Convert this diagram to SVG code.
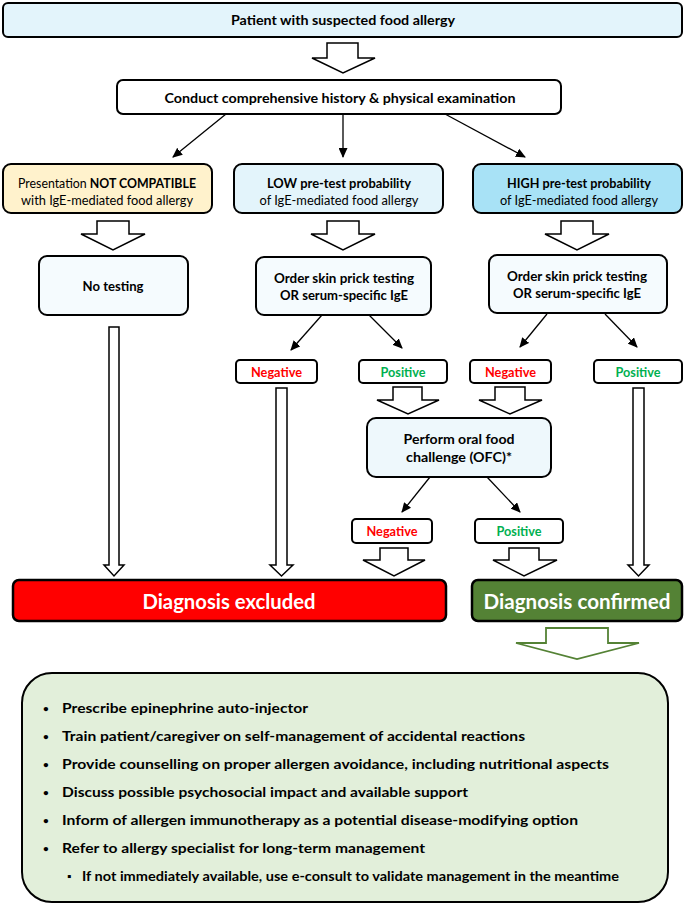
<svg xmlns="http://www.w3.org/2000/svg" width="685" height="909" viewBox="0 0 685 909">
<style>
text{font-family:Lato,"Liberation Sans",sans-serif;font-weight:bold;fill:#000;text-anchor:middle;dominant-baseline:central}
.n{font-weight:normal}
.box{stroke:#000;stroke-width:2}
.ha{fill:#fff;stroke:#000;stroke-width:1.5;stroke-linejoin:miter}
.ln{stroke:#000;stroke-width:1.3;fill:none;marker-end:url(#ah)}
.red{fill:#ff0000}
.grn{fill:#00b050}
.wht{fill:#fff}
.bl{text-anchor:start;font-size:13.5px}
.bu{text-anchor:middle;font-size:10px}
</style>
<defs>
<marker id="ah" markerUnits="userSpaceOnUse" markerWidth="10" markerHeight="9" refX="9" refY="4.5" orient="auto">
<path d="M0,0 L10,4.5 L0,9 z" fill="#000"/>
</marker>
</defs>

<g id="connectors">
<path class="ha" d="M327,43 H358 V58 H375 L343,73 L312,58 H327 Z"/>
<line class="ln" x1="226" y1="114" x2="173" y2="157"/>
<line class="ln" x1="343" y1="115" x2="343" y2="157"/>
<line class="ln" x1="445" y1="114" x2="525" y2="157"/>
<path class="ha" d="M97,221 H129 V234 H145 L113,250 L81,234 H97 Z"/>
<path class="ha" d="M327,221 H359 V234 H375 L343,250 L311,234 H327 Z"/>
<path class="ha" d="M561,221 H593 V234 H609 L577,250 L545,234 H561 Z"/>
<line class="ln" x1="322" y1="315" x2="291" y2="350"/>
<line class="ln" x1="369" y1="315" x2="402" y2="348"/>
<line class="ln" x1="547" y1="314" x2="520" y2="347"/>
<line class="ln" x1="605" y1="314" x2="637" y2="347"/>
<path class="ha" d="M109,327 H119 V565 H124 L114,576 L104,565 H109 Z"/>
<path class="ha" d="M276,388 H287 V565 H293 L281.5,576 L270,565 H276 Z"/>
<path class="ha" d="M633,388 H644 V565 H649 L638.5,576 L628,565 H633 Z"/>
<path class="ha" d="M393,387 H422 V400 H439 L408,414 L377,400 H393 Z"/>
<path class="ha" d="M495,387 H525 V400 H542 L510,414 L479,400 H495 Z"/>
<line class="ln" x1="430" y1="477" x2="402" y2="512"/>
<line class="ln" x1="487" y1="477" x2="520" y2="512"/>
<path class="ha" d="M380,548 H408 V560 H425 L394,576 L363,560 H380 Z"/>
<path class="ha" d="M509,548 H539 V560 H557 L524,576 L493,560 H509 Z"/>
<path d="M546,628 H608 V643 H639 L577,659 L516,643 H546 Z" fill="#fff" stroke="#548235" stroke-width="1.8"/>
</g>

<g id="n-patient">
<rect class="box" x="3" y="3" width="679" height="34" rx="5" fill="#e3f4fb"/>
<text x="343" y="20" font-size="13" textLength="224" lengthAdjust="spacingAndGlyphs">Patient with suspected food allergy</text>
</g>
<g id="n-history">
<rect class="box" x="117" y="80" width="444" height="34" rx="6" fill="#fff"/>
<text x="340" y="98" font-size="13" textLength="351" lengthAdjust="spacingAndGlyphs">Conduct comprehensive history &amp; physical examination</text>
</g>

<g id="n-notcomp">
<rect class="box" x="3" y="164" width="209" height="49" rx="8" fill="#fff2cc"/>
<text x="107" y="183" font-size="12.5" textLength="178" lengthAdjust="spacingAndGlyphs"><tspan class="n">Presentation </tspan>NOT COMPATIBLE</text>
<text class="n" x="107" y="200" font-size="12.5" textLength="172" lengthAdjust="spacingAndGlyphs">with IgE-mediated food allergy</text>
</g>
<g id="n-low">
<rect class="box" x="234" y="164" width="209" height="49" rx="8" fill="#e3f4fb"/>
<text x="339" y="183" font-size="12.5" textLength="144" lengthAdjust="spacingAndGlyphs">LOW pre-test probability</text>
<text class="n" x="339" y="200" font-size="12.5" textLength="159" lengthAdjust="spacingAndGlyphs">of IgE-mediated food allergy</text>
</g>
<g id="n-high">
<rect class="box" x="473" y="164" width="209" height="49" rx="8" fill="#a8e2f6"/>
<text x="579" y="183" font-size="12.5" textLength="144" lengthAdjust="spacingAndGlyphs">HIGH pre-test probability</text>
<text class="n" x="579" y="200" font-size="12.5" textLength="158" lengthAdjust="spacingAndGlyphs">of IgE-mediated food allergy</text>
</g>

<g id="n-notesting">
<rect class="box" x="39" y="256" width="149" height="59" rx="8" fill="#f5fbfe"/>
<text x="113" y="286" font-size="13" textLength="61" lengthAdjust="spacingAndGlyphs">No testing</text>
</g>
<g id="n-order-low">
<rect class="box" x="256" y="257" width="175" height="58" rx="8" fill="#f5fbfe"/>
<text x="344" y="278" font-size="13" textLength="140" lengthAdjust="spacingAndGlyphs">Order skin prick testing</text>
<text x="344" y="295" font-size="13" textLength="128" lengthAdjust="spacingAndGlyphs">OR serum-specific IgE</text>
</g>
<g id="n-order-high">
<rect class="box" x="489" y="255" width="178" height="58" rx="8" fill="#f5fbfe"/>
<text x="577" y="276" font-size="13" textLength="140" lengthAdjust="spacingAndGlyphs">Order skin prick testing</text>
<text x="577" y="293" font-size="13" textLength="128" lengthAdjust="spacingAndGlyphs">OR serum-specific IgE</text>
</g>

<g id="n-neg1">
<rect class="box" x="236" y="360" width="81" height="23" rx="4" fill="#fff"/>
<text class="red" x="276.5" y="372" font-size="12.5" textLength="51" lengthAdjust="spacingAndGlyphs">Negative</text>
</g>
<g id="n-pos1">
<rect class="box" x="359" y="360" width="88" height="23" rx="4" fill="#fff"/>
<text class="grn" x="403" y="372" font-size="12.5" textLength="45" lengthAdjust="spacingAndGlyphs">Positive</text>
</g>
<g id="n-neg2">
<rect class="box" x="470" y="360" width="81" height="23" rx="4" fill="#fff"/>
<text class="red" x="510.5" y="372" font-size="12.5" textLength="51" lengthAdjust="spacingAndGlyphs">Negative</text>
</g>
<g id="n-pos2">
<rect class="box" x="594" y="360" width="88" height="23" rx="4" fill="#fff"/>
<text class="grn" x="638" y="372" font-size="12.5" textLength="45" lengthAdjust="spacingAndGlyphs">Positive</text>
</g>

<g id="n-ofc">
<rect class="box" x="367" y="418" width="184" height="59" rx="9" fill="#eef8fc"/>
<text x="459" y="439" font-size="13" textLength="111" lengthAdjust="spacingAndGlyphs">Perform oral food</text>
<text x="459" y="457" font-size="13" textLength="106" lengthAdjust="spacingAndGlyphs">challenge (OFC)*</text>
</g>

<g id="n-neg3">
<rect class="box" x="352" y="519" width="80" height="24" rx="4" fill="#fff"/>
<text class="red" x="392" y="531" font-size="12.5" textLength="51" lengthAdjust="spacingAndGlyphs">Negative</text>
</g>
<g id="n-pos3">
<rect class="box" x="475" y="519" width="88" height="24" rx="4" fill="#fff"/>
<text class="grn" x="519" y="531" font-size="12.5" textLength="45" lengthAdjust="spacingAndGlyphs">Positive</text>
</g>

<g id="n-excluded">
<rect x="13" y="580" width="433" height="41" rx="6" fill="#ff0000" stroke="#000" stroke-width="2.5"/>
<text class="wht" x="229" y="601" font-size="20" textLength="173" lengthAdjust="spacingAndGlyphs">Diagnosis excluded</text>
</g>
<g id="n-confirmed">
<rect x="472" y="580" width="210" height="41" rx="6" fill="#548235" stroke="#000" stroke-width="2.5"/>
<text class="wht" x="577" y="601" font-size="20" textLength="187" lengthAdjust="spacingAndGlyphs">Diagnosis confirmed</text>
</g>

<g id="n-management">
<rect x="22" y="673" width="646" height="229" rx="30" fill="#e2efda" stroke="#000" stroke-width="2"/>
<text class="bu" x="46" y="708">•</text>
<text class="bl" x="62" y="708" textLength="246" lengthAdjust="spacingAndGlyphs">Prescribe epinephrine auto-injector</text>
<text class="bu" x="46" y="736">•</text>
<text class="bl" x="62" y="736" textLength="463" lengthAdjust="spacingAndGlyphs">Train patient/caregiver on self-management of accidental reactions</text>
<text class="bu" x="46" y="764">•</text>
<text class="bl" x="62" y="764" textLength="547" lengthAdjust="spacingAndGlyphs">Provide counselling on proper allergen avoidance, including nutritional aspects</text>
<text class="bu" x="46" y="792">•</text>
<text class="bl" x="62" y="792" textLength="406" lengthAdjust="spacingAndGlyphs">Discuss possible psychosocial impact and available support</text>
<text class="bu" x="46" y="820">•</text>
<text class="bl" x="62" y="820" textLength="516" lengthAdjust="spacingAndGlyphs">Inform of allergen immunotherapy as a potential disease-modifying option</text>
<text class="bu" x="46" y="848">•</text>
<text class="bl" x="62" y="848" textLength="363" lengthAdjust="spacingAndGlyphs">Refer to allergy specialist for long-term management</text>
<text class="bu" x="69" y="876" font-size="9">▪</text>
<text class="bl" x="82" y="876" font-size="12.5" textLength="537" lengthAdjust="spacingAndGlyphs">If not immediately available, use e-consult to validate management in the meantime</text>
</g>
</svg>
